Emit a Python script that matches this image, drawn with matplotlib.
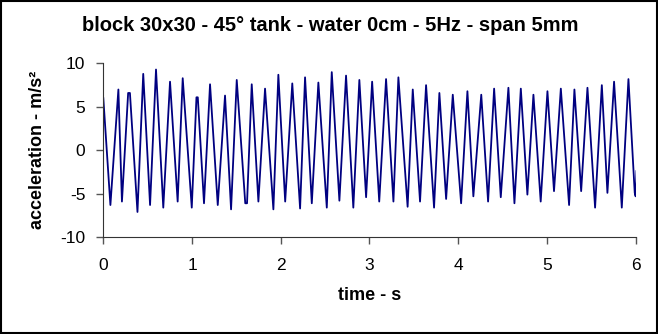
import matplotlib
matplotlib.use("Agg")
import numpy as np
from matplotlib import pyplot as plt

time_s = [
    0.00, 0.08, 0.17, 0.21, 0.28, 0.30, 0.385, 0.45, 0.527, 0.594,
    0.676, 0.752, 0.838, 0.895, 0.997, 1.05, 1.065, 1.135, 1.203, 1.29,
    1.372, 1.44, 1.504, 1.60, 1.62, 1.673, 1.748, 1.823, 1.917, 1.973,
    2.05, 2.13, 2.218, 2.274, 2.35, 2.424, 2.519, 2.575, 2.661, 2.736,
    2.818, 2.886, 2.962, 3.03, 3.11, 3.187, 3.27, 3.326, 3.43, 3.488,
    3.57, 3.638, 3.728, 3.788, 3.864, 3.939, 4.033, 4.104, 4.171, 4.26,
    4.337, 4.405, 4.48, 4.566, 4.634, 4.706, 4.78, 4.848, 4.93, 5.006,
    5.08, 5.157, 5.25, 5.31, 5.386, 5.457, 5.543, 5.619, 5.682, 5.757,
    5.844, 5.919, 5.99, 6.00, 6.01,
]
accel = [
    6.0, -6.3, 7.0, -5.9, 6.6, 6.6, -7.1, 8.8, -6.3, 9.3,
    -6.6, 7.9, -5.9, 8.3, -6.6, 6.1, 6.1, -6.1, 7.6, -6.3,
    6.3, -6.8, 8.1, -6.1, -6.1, 7.6, -5.9, 7.1, -6.8, 8.7,
    -5.9, 7.7, -6.7, 8.4, -6.1, 7.8, -6.6, 9.0, -5.8, 8.6,
    -6.6, 8.1, -5.4, 7.9, -5.9, 8.2, -5.9, 8.4, -6.5, 7.0,
    -5.9, 7.5, -6.6, 6.6, -5.6, 6.4, -6.1, 6.8, -5.3, 6.4,
    -5.9, 7.1, -5.4, 7.2, -6.1, 7.1, -5.1, 6.4, -5.9, 6.8,
    -4.7, 7.1, -6.3, 7.0, -4.7, 7.2, -6.6, 7.5, -4.9, 7.9,
    -6.6, 8.2, -4.9, -5.3, -2.4,
]

x_ticks = [0, 1, 2, 3, 4, 5, 6]
y_ticks = [-10, -5, 0, 5, 10]

plt.rcParams['font.family'] = ['Liberation Sans', 'DejaVu Sans']
plt.rcParams['axes.unicode_minus'] = False

fig = plt.figure(figsize=(6.58, 3.34), dpi=100)
ax = fig.add_axes([0.157, 0.290, 0.809, 0.520])

ax.plot(time_s, accel, color="#000080", linewidth=1.3)

ax.set_xlim(0, 6)
ax.set_ylim(-10, 10)
ax.set_xticks(x_ticks)
ax.set_yticks(y_ticks)
ax.tick_params(direction='out', length=5, width=1, color='#555555', labelsize=12.5)
ax.tick_params(axis='x', pad=10)
ax.tick_params(axis='y', pad=8)
for side in ('top', 'right'):
    ax.spines[side].set_visible(False)
for side in ('left', 'bottom'):
    ax.spines[side].set_color('#333333')

ax.set_xlabel("time - s", fontsize=13, fontweight='bold', va='center')
ax.set_ylabel("acceleration - m/s²", fontsize=13, fontweight='bold', va='center')
ax.xaxis.set_label_coords(0.5, -0.337)
ax.yaxis.set_label_coords(-0.123, 0.5)
fig.text(0.502, 0.925, "block 30x30 - 45° tank - water 0cm - 5Hz - span 5mm",
         fontsize=14.5, fontweight='bold', ha='center', va='center')

# outer frame like the spreadsheet chart area
fig.patches.append(plt.Rectangle((0.001, 0.002), 0.997, 0.995, transform=fig.transFigure,
                                 fill=False, edgecolor='black', linewidth=1.5))

fig.savefig("out.png", dpi=100)
